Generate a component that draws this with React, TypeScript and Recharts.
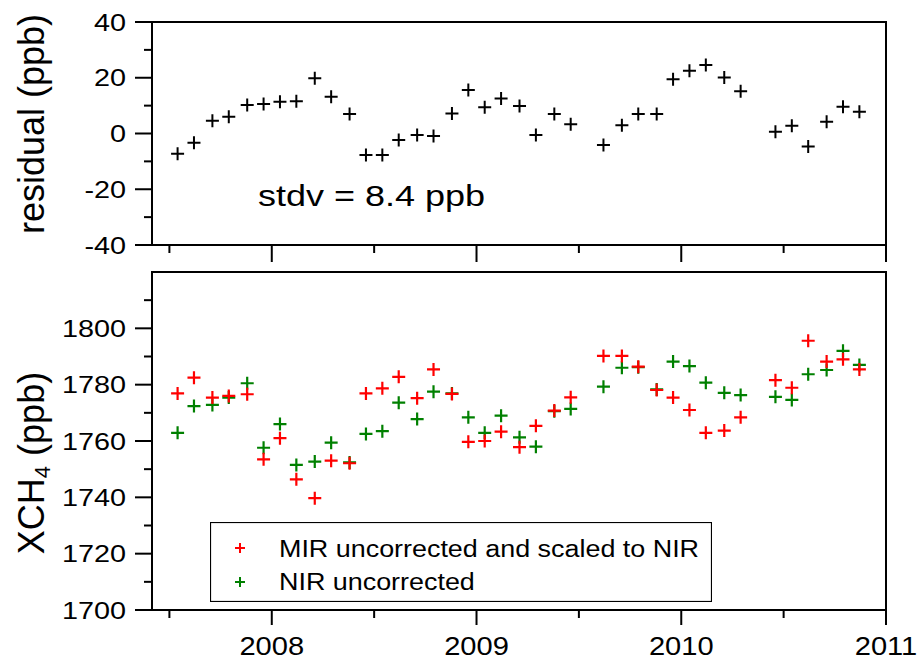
import React from 'react';
import { ScatterChart, Scatter, XAxis, YAxis, ReferenceArea, Legend } from 'recharts';

const FONT = '"Liberation Sans", Arial, Helvetica, sans-serif';

// monthly means, decimal year (mid-month)
const dates = [
  2007.54, 2007.62, 2007.71, 2007.79, 2007.88, 2007.96,
  2008.04, 2008.12, 2008.21, 2008.29, 2008.38, 2008.46,
  2008.54, 2008.62, 2008.71, 2008.79, 2008.88, 2008.96,
  2009.04, 2009.12, 2009.21, 2009.29, 2009.38, 2009.46,
  2009.62, 2009.71, 2009.79, 2009.88, 2009.96,
  2010.04, 2010.12, 2010.21, 2010.29,
  2010.46, 2010.54, 2010.62, 2010.71, 2010.79, 2010.87,
];

const residual = [
  -7.3, -3.3, 4.6, 6.0, 10.2, 10.6,
  11.4, 11.6, 19.8, 13.2, 7.0, -7.7,
  -7.7, -2.3, -0.5, -0.9, 7.2, 15.6,
  9.4, 12.6, 9.9, -0.5, 7.0, 3.3,
  -4.1, 3.0, 7.0, 7.0, 19.5,
  22.5, 24.6, 20.1, 15.2,
  0.6, 2.8, -4.7, 4.2, 9.6, 7.8,
];

const mirScaled = [
  1776.9, 1782.5, 1775.4, 1776.0, 1776.6, 1753.5,
  1761.0, 1746.4, 1739.7, 1753.0, 1752.1, 1776.9,
  1778.7, 1782.8, 1775.2, 1785.4, 1776.7, 1759.7,
  1760.0, 1763.3, 1757.8, 1765.4, 1770.8, 1775.5,
  1790.2, 1790.2, 1786.4, 1778.1, 1775.4,
  1771.0, 1762.9, 1763.7, 1768.4,
  1781.6, 1778.9, 1795.6, 1788.2, 1789.0, 1785.4,
];

const nirUncorrected = [
  1762.9, 1772.4, 1772.8, 1775.4, 1780.5, 1757.6,
  1766.0, 1751.5, 1752.7, 1759.4, 1752.4, 1762.5,
  1763.5, 1773.6, 1767.8, 1777.5, 1776.9, 1768.4,
  1762.9, 1769.0, 1761.3, 1758.0, 1770.6, 1771.4,
  1779.3, 1786.0, 1786.2, 1778.3, 1788.2,
  1786.6, 1780.7, 1777.1, 1776.3,
  1775.7, 1774.6, 1783.7, 1785.2, 1792.0, 1787.0,
];

const yearTicks = [2007.5, 2008, 2008.5, 2009, 2009.5, 2010, 2010.5, 2011];
const residualTicks = [-40, -30, -20, -10, 0, 10, 20, 30, 40];
const xchTicks = [1700, 1710, 1720, 1730, 1740, 1750, 1760, 1770, 1780, 1790, 1800, 1810];

const X_DOMAIN: [number, number] = [2007.415, 2011];
const RES_DOMAIN: [number, number] = [-40, 40];
const XCH_DOMAIN: [number, number] = [1700, 1820];

const MIR_NAME = 'MIR uncorrected and scaled to NIR';
const NIR_NAME = 'NIR uncorrected';
const RED = '#ff0000';
const GREEN = '#008000';

const residualData = dates.map((x, i) => ({ x, y: residual[i] }));
const mirData = dates.map((x, i) => ({ x, y: mirScaled[i] }));
const nirData = dates.map((x, i) => ({ x, y: nirUncorrected[i] }));

const cross = (color: string, size: number, width: number) => (props: any) => {
  const { cx, cy } = props;
  if (cx == null || cy == null) return <g />;
  const h = size / 2;
  return (
    <path
      d={`M${cx - h},${cy}H${cx + h}M${cx},${cy - h}V${cy + h}`}
      stroke={color}
      strokeWidth={width}
      fill="none"
    />
  );
};

// y passed in is the plot's bottom edge since tickSize/tickMargin are 0
const XTick = (props: any) => {
  const { x, y, payload, showLabel, major: majorLen } = props;
  const major = Number.isInteger(payload.value);
  return (
    <g>
      <line x1={x} y1={y} x2={x} y2={y + (major ? majorLen : 8)} stroke="#000" strokeWidth={2} />
      {showLabel && major && (
        <text
          transform={`translate(${x},${y + 45}) scale(1.12,1)`}
          textAnchor="middle"
          fontSize={26}
          fontFamily={FONT}
          fill="#000"
        >
          {payload.value}
        </text>
      )}
    </g>
  );
};

const YTick = (props: any) => {
  const { x, y, payload, step } = props;
  const major = payload.value % step === 0;
  return (
    <g>
      <line x1={x - (major ? 17 : 8)} y1={y} x2={x} y2={y} stroke="#000" strokeWidth={2} />
      {major && (
        <text
          transform={`translate(${x - 26},${y + 8.5}) scale(1.2,1)`}
          textAnchor="end"
          fontSize={24}
          fontFamily={FONT}
          fill="#000"
        >
          {payload.value}
        </text>
      )}
    </g>
  );
};

const ResidualTitle = () => (
  <text transform="translate(44,124) rotate(-90)" textAnchor="middle" fontSize={36} fontFamily={FONT} fill="#000">
    residual (ppb)
  </text>
);

const XchTitle = () => (
  <text transform="translate(44,201) rotate(-90)" textAnchor="middle" fontSize={36} fontFamily={FONT} fill="#000">
    XCH<tspan fontSize={22} dy={6}>4</tspan>
    <tspan dy={-6}> (ppb)</tspan>
  </text>
);

const LegendBox = () => {
  const items = [
    { name: MIR_NAME, color: RED },
    { name: NIR_NAME, color: GREEN },
  ];
  return (
    <svg width={502} height={80} style={{ display: 'block' }}>
      <rect x={0.5} y={0.5} width={501} height={79} fill="#fff" stroke="#000" strokeWidth={1.2} />
      {items.map((it, i) => (
        <g key={it.name}>
          <path
            d={`M${25},${26 + 34 * i}H${35}M${30},${21 + 34 * i}V${31 + 34 * i}`}
            stroke={it.color}
            strokeWidth={2}
          />
          <text
            transform={`translate(69,${35 + 33 * i}) scale(1.17,1)`}
            fontSize={23}
            fontFamily={FONT}
            fill="#000"
          >
            {it.name}
          </text>
        </g>
      ))}
    </svg>
  );
};

export default function App() {
  return (
    <div style={{ position: 'absolute', left: 0, top: 0, width: 917, height: 662, background: '#fff', fontFamily: FONT }}>
      <div style={{ position: 'absolute', left: 0, top: 0 }}>
        <ScatterChart width={917} height={262} margin={{ top: 22, right: 31, bottom: 7, left: 0 }}>
          <XAxis
            type="number"
            dataKey="x"
            domain={X_DOMAIN}
            ticks={yearTicks}
            interval={0}
            height={10}
            axisLine={false}
            tickLine={false}
            tickSize={0}
            tickMargin={0}
            allowDataOverflow
            tick={(p: any) => <XTick {...p} showLabel={false} major={17} />}
          />
          <YAxis
            type="number"
            dataKey="y"
            domain={RES_DOMAIN}
            ticks={residualTicks}
            interval={0}
            width={152}
            axisLine={false}
            tickLine={false}
            tickSize={0}
            tickMargin={0}
            allowDataOverflow
            tick={(p: any) => <YTick {...p} step={20} />}
            label={<ResidualTitle />}
          />
          <ReferenceArea
            x1={X_DOMAIN[0]}
            x2={X_DOMAIN[1]}
            y1={RES_DOMAIN[0]}
            y2={RES_DOMAIN[1]}
            fill="none"
            stroke="#000"
            strokeWidth={2}
            ifOverflow="visible"
          />
          <Scatter data={residualData} fill="#000" shape={cross('#000', 13, 2)} isAnimationActive={false} />
          <text transform="translate(258,206) scale(1.2,1)" fontSize={30} fontFamily={FONT} fill="#000">
            stdv = 8.4 ppb
          </text>
        </ScatterChart>
      </div>
      <div style={{ position: 'absolute', left: 0, top: 262 }}>
        <ScatterChart width={917} height={400} margin={{ top: 10, right: 31, bottom: 12, left: 0 }}>
          <XAxis
            type="number"
            dataKey="x"
            domain={X_DOMAIN}
            ticks={yearTicks}
            interval={0}
            height={40}
            axisLine={false}
            tickLine={false}
            tickSize={0}
            tickMargin={0}
            allowDataOverflow
            tick={(p: any) => <XTick {...p} showLabel major={15} />}
          />
          <YAxis
            type="number"
            dataKey="y"
            domain={XCH_DOMAIN}
            ticks={xchTicks}
            interval={0}
            width={152}
            axisLine={false}
            tickLine={false}
            tickSize={0}
            tickMargin={0}
            allowDataOverflow
            tick={(p: any) => <YTick {...p} step={20} />}
            label={<XchTitle />}
          />
          <ReferenceArea
            x1={X_DOMAIN[0]}
            x2={X_DOMAIN[1]}
            y1={XCH_DOMAIN[0]}
            y2={XCH_DOMAIN[1]}
            fill="none"
            stroke="#000"
            strokeWidth={2}
            ifOverflow="visible"
          />
          <Scatter name={NIR_NAME} data={nirData} fill={GREEN} shape={cross(GREEN, 13, 2.2)} isAnimationActive={false} />
          <Scatter name={MIR_NAME} data={mirData} fill={RED} shape={cross(RED, 13, 2.2)} isAnimationActive={false} />
          <Legend
            layout="vertical"
            align="center"
            verticalAlign="middle"
            wrapperStyle={{ left: 210, top: 260, width: 502, height: 80 }}
            content={() => <LegendBox />}
          />
        </ScatterChart>
      </div>
    </div>
  );
}
